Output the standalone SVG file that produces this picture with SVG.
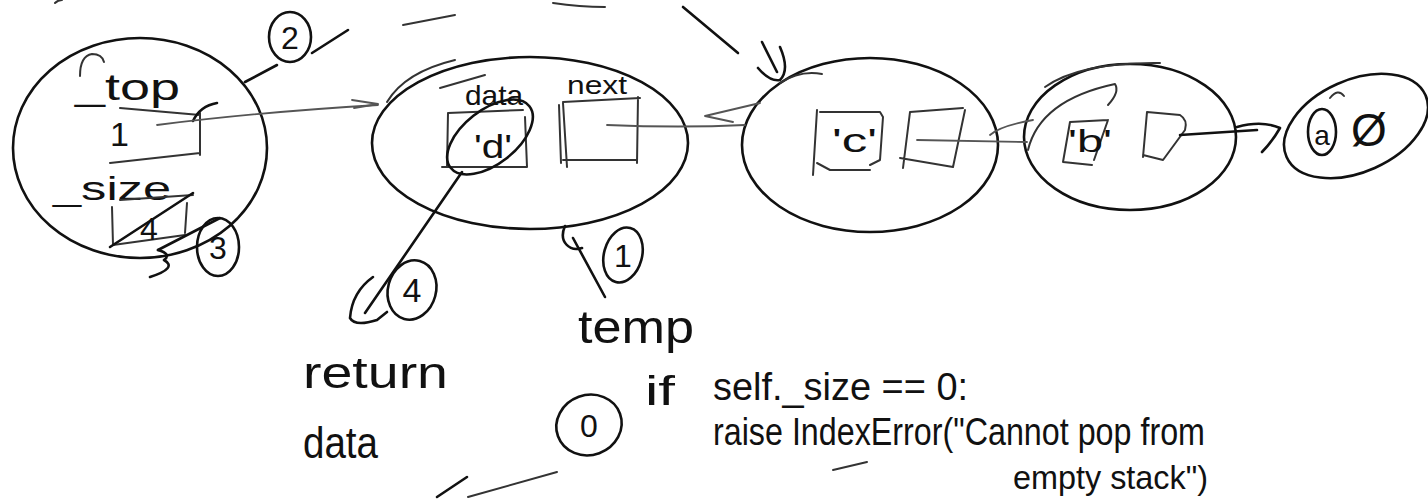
<svg xmlns="http://www.w3.org/2000/svg" width="1428" height="502" viewBox="0 0 1428 502">
<style>
.ink{fill:none;stroke:#111;stroke-width:2.6;stroke-linecap:round;stroke-linejoin:round}
.pen{fill:none;stroke:#333;stroke-width:2;stroke-linecap:round;stroke-linejoin:round}
.thin{fill:none;stroke:#555;stroke-width:1.8;stroke-linecap:round;stroke-linejoin:round}
.t{font-family:"Liberation Sans","DejaVu Sans",sans-serif;fill:#111}
</style>
<rect width="1428" height="502" fill="#fff"/>

<g id="stack">
  <ellipse class="ink" cx="140" cy="148" rx="127" ry="110"/>
  <path class="pen" d="M80,76 Q80,56 92,54 Q102,54 104,62"/>
  <text class="t" x="75" y="100" font-size="36" textLength="105" lengthAdjust="spacingAndGlyphs">_top</text>
  <text class="t" x="110" y="146" font-size="34">1</text>
  <path class="pen" d="M120,108 L200,115 M200,113 L200,155 M110,163 L200,153"/>
  <path class="ink" d="M193,121 Q200,106 217,103"/>
  <text class="t" x="53" y="200" font-size="34" textLength="118" lengthAdjust="spacingAndGlyphs">_size</text>
  <path class="pen" d="M120,200 L193,195 M112,207 L113,245 L185,235 M187,203 L185,233"/>
  <text class="t" x="140" y="240" font-size="32">4</text>
  <path class="ink" d="M110,247 L193,193"/>
</g>

<g id="callout-2">
  <ellipse class="ink" cx="290" cy="37" rx="21" ry="25"/>
  <text class="t" x="290" y="49" font-size="32" text-anchor="middle">2</text>
  <path class="ink" d="M245,82 L277,65"/>
  <path class="ink" d="M312,53 L348,30"/>
</g>

<g id="callout-3">
  <ellipse class="ink" cx="218" cy="247" rx="21" ry="29"/>
  <text class="t" x="218" y="259" font-size="32" text-anchor="middle">3</text>
  <path class="ink" d="M220,218 L158,250"/>
  <path class="ink" d="M158,250 Q172,254 164,260 Q178,268 150,277"/>
</g>

<g id="node-d">
  <ellipse class="ink" cx="530" cy="143" rx="158" ry="86"/>
  <path class="pen" d="M387,102 Q405,72 455,60"/>
  <path class="pen" d="M440,88 L485,75"/>
  <text class="t" x="465" y="105" font-size="28" textLength="58" lengthAdjust="spacingAndGlyphs">data</text>
  <text class="t" x="567" y="94" font-size="26" textLength="60" lengthAdjust="spacingAndGlyphs">next</text>
  <path class="pen" d="M448,113 L523,110 M448,113 L447,167 M525,117 L527,167 M442,167 L527,167"/>
  <ellipse class="ink" cx="490" cy="137" rx="50" ry="27" transform="rotate(-38 490 137)"/>
  <text class="t" x="474" y="158" font-size="34" textLength="38" lengthAdjust="spacingAndGlyphs">'d'</text>
  <path class="pen" d="M563,102 L640,98 M563,103 L567,167 M559,105 L561,163 M638,97 L637,163 M563,160 L637,160"/>
</g>

<g id="node-c">
  <ellipse class="ink" cx="870" cy="145" rx="128" ry="87"/>
  <path class="pen" d="M780,83 Q800,70 822,74"/>
  <path class="pen" d="M817,110 L813,175 M820,112 L880,112 L883,117 L880,160 L870,165 M817,163 L830,170 L870,170"/>
  <text class="t" x="832" y="152" font-size="34" textLength="45" lengthAdjust="spacingAndGlyphs">'c'</text>
  <path class="pen" d="M910,112 L903,168 M910,112 L963,108 M965,110 L953,167 M900,158 L953,167"/>
</g>

<g id="node-b">
  <ellipse class="ink" cx="1130" cy="137" rx="106" ry="73"/>
  <path class="pen" d="M1045,87 Q1080,62 1160,63"/>
  <path class="pen" d="M1028,150 Q1040,100 1115,84 Q1120,92 1108,105"/>
  <path class="pen" d="M1070,122 L1108,120 M1070,122 L1063,162 L1092,165 M1108,120 L1094,160"/>
  <text class="t" x="1068" y="152" font-size="32" textLength="44" lengthAdjust="spacingAndGlyphs">'b'</text>
  <path class="pen" d="M1147,112 L1143,157 M1147,112 L1180,115 Q1188,120 1185,130 L1163,160 L1143,155"/>
</g>

<g id="node-a">
  <ellipse class="ink" cx="1356" cy="126" rx="76" ry="46" transform="rotate(-24 1356 126)"/>
  <path class="pen" d="M1330,98 Q1338,88 1344,96"/>
  <ellipse class="ink" cx="1322" cy="132" rx="14" ry="23"/>
  <text class="t" x="1322" y="145" font-size="28" text-anchor="middle">a</text>
  <text class="t" x="1351" y="146" font-size="46">Ø</text>
</g>

<g id="connectors">
  <path class="thin" d="M157,125 Q260,112 378,105"/>
  <path class="thin" d="M352,100 L378,104 L354,108"/>
  <path class="thin" d="M607,125 Q680,128 745,125"/>
  <path class="thin" d="M760,103 L705,116 L733,122"/>
  <path class="thin" d="M917,140 L1027,142"/>
  <path class="thin" d="M990,135 Q1000,126 1033,120"/>
  <path class="ink" d="M1180,135 L1257,130"/>
  <path class="ink" d="M1237,127 Q1262,120 1280,128 Q1272,142 1262,152"/>
  <path class="ink" d="M683,7 L738,53"/>
  <path class="ink" d="M762,42 L777,72 M758,68 Q770,82 780,80 Q790,70 780,47"/>
  <path class="ink" d="M462,172 L365,313"/>
  <path class="ink" d="M373,277 Q352,292 350,318 Q355,327 377,320 L387,312"/>
  <path class="ink" d="M565,226 C558,242 570,252 582,248 M573,238 L605,297"/>
</g>

<g id="callout-4">
  <ellipse class="ink" cx="412" cy="290" rx="24" ry="30" transform="rotate(15 412 290)"/>
  <text class="t" x="412" y="302" font-size="34" text-anchor="middle">4</text>
</g>

<g id="callout-1">
  <ellipse class="ink" cx="623" cy="255" rx="19" ry="28" transform="rotate(15 623 255)"/>
  <text class="t" x="623" y="267" font-size="32" text-anchor="middle">1</text>
</g>

<g id="callout-0">
  <ellipse class="ink" cx="589" cy="425" rx="33" ry="30" transform="rotate(-20 589 425)"/>
  <text class="t" x="589" y="437" font-size="32" text-anchor="middle">0</text>
</g>

<g id="sketch-strokes">
  <path class="pen" d="M403,25 L455,15"/>
  <path class="pen" d="M553,3 Q580,7 605,7"/>
  <path class="pen" d="M55,3 Q58,0 62,0"/>
  <path class="ink" d="M437,497 L467,477"/>
  <path class="pen" d="M468,497 L557,472"/>
  <path class="pen" d="M833,470 L867,462"/>
</g>

<g id="labels">
  <text class="t" x="578" y="343" font-size="46" textLength="116" lengthAdjust="spacingAndGlyphs">temp</text>
  <text class="t" x="303" y="388" font-size="44" textLength="145" lengthAdjust="spacingAndGlyphs">return</text>
  <text class="t" x="303" y="458" font-size="44" textLength="75" lengthAdjust="spacingAndGlyphs">data</text>
  <text class="t" x="645" y="405" font-size="40" textLength="30" lengthAdjust="spacingAndGlyphs">if</text>
  <text class="t" x="713" y="400" font-size="38" textLength="255" lengthAdjust="spacingAndGlyphs">self._size == 0:</text>
  <text class="t" x="713" y="445" font-size="38" textLength="492" lengthAdjust="spacingAndGlyphs">raise IndexError("Cannot pop from</text>
  <text class="t" x="1013" y="489" font-size="34" textLength="195" lengthAdjust="spacingAndGlyphs">empty stack")</text>
</g>
</svg>
